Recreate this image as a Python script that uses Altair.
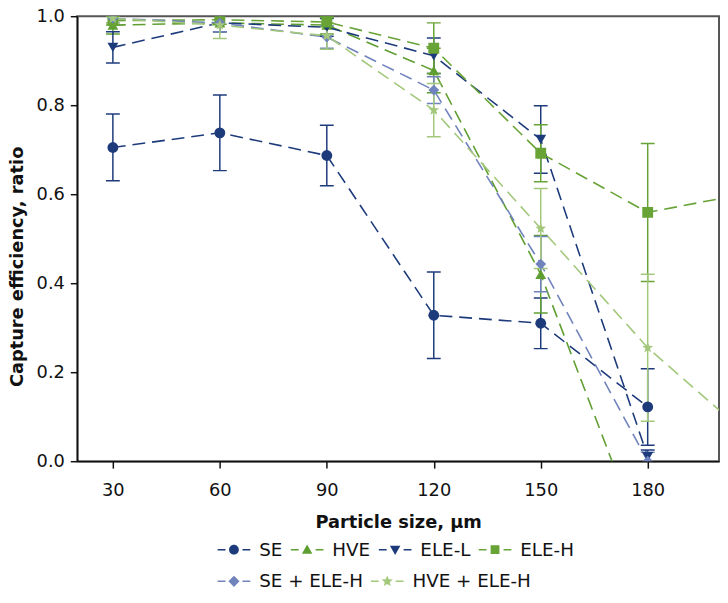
import math
import altair as alt
import pandas as pd

# ---------------- data ----------------
sizes = [30, 60, 90, 120, 150, 180, 210]
series_names = ["SE", "HVE", "ELE-L", "ELE-H", "SE + ELE-H", "HVE + ELE-H"]

se_vals = [0.705, 0.738, 0.687, 0.328, 0.310, 0.122, None]
se_err = [0.075, 0.085, 0.068, 0.097, 0.057, 0.086, None]

hve_vals = [0.980, 0.985, 0.980, 0.878, 0.420, -0.210, None]
hve_err = [0.020, 0.020, 0.020, 0.050, 0.087, 0.100, None]

elel_vals = [0.930, 0.985, 0.975, 0.911, 0.723, 0.010, None]
elel_err = [0.035, 0.020, 0.020, 0.040, 0.076, 0.015, None]

eleh_vals = [0.990, 0.992, 0.987, 0.928, 0.692, 0.559, 0.605]
eleh_err = [0.010, 0.010, 0.010, 0.057, 0.064, 0.155, None]

seeleh_vals = [0.995, 0.985, 0.953, 0.834, 0.443, 0.000, None]
seeleh_err = [0.010, 0.020, 0.025, 0.030, 0.062, 0.020, None]

hveeleh_vals = [0.995, 0.980, 0.956, 0.789, 0.523, 0.255, 0.045]
hveeleh_err = [0.010, 0.030, 0.030, 0.060, 0.090, 0.165, None]

colors = ["#1d3b7b", "#5f9e30", "#1d3b7b", "#68a336", "#7183bd", "#a3c87c"]

all_vals = [se_vals, hve_vals, elel_vals, eleh_vals, seeleh_vals, hveeleh_vals]
all_errs = [se_err, hve_err, elel_err, eleh_err, seeleh_err, hveeleh_err]

rows = []
for name, vals, errs in zip(series_names, all_vals, all_errs):
    for i, (x, v) in enumerate(zip(sizes, vals)):
        if v is None:
            continue
        e = errs[i]
        rows.append({
            "size": x, "v": v, "series": name,
            "lo": v - e if e is not None else None,
            "hi": v + e if e is not None else None,
        })
df = pd.DataFrame(rows)
err_df = df.dropna(subset=["lo"])

# ---------------- marker paths ----------------
def star(r_out, r_in):
    pts = []
    for k in range(10):
        a = -math.pi / 2 + k * math.pi / 5
        r = r_out if k % 2 == 0 else r_in
        pts.append((r * math.cos(a), r * math.sin(a)))
    return "M" + "L".join(f"{x:.3f},{y:.3f}" for x, y in pts) + "Z"

point_shapes = ["circle", "triangle-up", "triangle-down", "square", "diamond", star(1.05, 0.45)]

# legend symbol: filled dash - marker - filled dash
dash = "M-1,-0.045L-0.52,-0.045L-0.52,0.045L-1,0.045ZM0.52,-0.045L1,-0.045L1,0.045L0.52,0.045Z"
m = 0.30
legend_markers = [
    f"M{-m},0A{m},{m},0,1,0,{m},0A{m},{m},0,1,0,{-m},0Z",
    "M0,-0.32L0.32,0.24L-0.32,0.24Z",
    "M0,0.32L0.32,-0.24L-0.32,-0.24Z",
    "M-0.27,-0.27L0.27,-0.27L0.27,0.27L-0.27,0.27Z",
    "M0,-0.34L0.34,0L0,0.34L-0.34,0Z",
    star(0.36, 0.16),
]
legend_shapes = [dash + mk for mk in legend_markers]

FONT = "DejaVu Sans"

x_scale = alt.Scale(domain=[20, 200], nice=False, zero=False)
y_scale = alt.Scale(domain=[0, 1], nice=False)

x_enc = alt.X("size:Q", scale=x_scale,
              axis=alt.Axis(values=[30, 60, 90, 120, 150, 180], title="Particle size, µm",
                            labelPadding=14, titlePadding=14))
y_enc = alt.Y("v:Q", scale=y_scale,
              axis=alt.Axis(values=[0, 0.2, 0.4, 0.6, 0.8, 1.0], format=".1f",
                            title="Capture efficiency, ratio", titlePadding=10,
                            labelPadding=6, titleY=253))

base = alt.Chart(df)
ebase = alt.Chart(err_df)

layers = []
for idx, (name, col) in enumerate(zip(series_names, colors)):
    sel = alt.datum.series == name
    layers.append(
        base.transform_filter(sel).mark_line(
            strokeDash=[13, 7], strokeWidth=1.6, clip=True, color=col
        ).encode(x=x_enc if idx == 0 else alt.X("size:Q", scale=x_scale),
                 y=y_enc if idx == 0 else alt.Y("v:Q", scale=y_scale),
                 order="size:Q")
    )
for name, col in zip(series_names, colors):
    sel = alt.datum.series == name
    eb = ebase.transform_filter(sel)
    layers.append(eb.mark_rule(strokeWidth=1.5, clip=True, color=col).encode(
        x=alt.X("size:Q", scale=x_scale), y=alt.Y("lo:Q", scale=y_scale), y2="hi:Q"))
    layers.append(eb.mark_rule(strokeWidth=1.5, xOffset=-7, x2Offset=7, clip=True, color=col).encode(
        x=alt.X("size:Q", scale=x_scale), x2="size:Q", y=alt.Y("hi:Q", scale=y_scale)))
    layers.append(eb.mark_rule(strokeWidth=1.5, xOffset=-7, x2Offset=7, clip=True, color=col).encode(
        x=alt.X("size:Q", scale=x_scale), x2="size:Q", y=alt.Y("lo:Q", scale=y_scale)))
for name, col, shp in zip(series_names, colors, point_shapes):
    sel = alt.datum.series == name
    layers.append(
        base.transform_filter(sel).mark_point(
            filled=True, size=120, opacity=1, clip=True, shape=shp, color=col
        ).encode(x=alt.X("size:Q", scale=x_scale), y=alt.Y("v:Q", scale=y_scale))
    )

def make_legend(y):
    return alt.Legend(orient="none", legendX=142, legendY=y, direction="horizontal",
                      title=None, symbolSize=1089, labelFontSize=18.5, labelFont=FONT,
                      symbolStrokeWidth=0, labelColor="#111111", labelOffset=9,
                      columnPadding=8, symbolOpacity=1, labelLimit=300)

def legend_layer(names, cols, shapes, y):
    leg = make_legend(y)
    return base.mark_point(filled=True, opacity=1).encode(
        x=alt.X("size:Q", scale=x_scale),
        y=alt.Y("v:Q", scale=y_scale),
        color=alt.Color("series:N", scale=alt.Scale(domain=names, range=cols), legend=leg),
        shape=alt.Shape("series:N", scale=alt.Scale(domain=names, range=shapes), legend=leg),
    ).transform_filter("datum.v > 5")

layers.append(legend_layer(series_names[:4], colors[:4], legend_shapes[:4], 523))
layers.append(legend_layer(series_names[4:], colors[4:], legend_shapes[4:], 555))

chart = alt.layer(*layers).resolve_scale(
    color="independent", shape="independent"
).properties(
    width=649, height=450,
    padding={"left": 70, "top": 5, "right": 1, "bottom": 132},
    autosize=alt.AutoSizeParams(type="none"),
).configure_view(
    stroke="#555555", strokeWidth=2
).configure_axis(
    labelFont=FONT, titleFont=FONT, labelFontSize=18, titleFontSize=18,
    titleFontWeight="bold", labelColor="#111111", titleColor="#111111",
    domainColor="#111111", domainWidth=1.5, tickColor="#111111", tickWidth=1.5,
    tickSize=7, grid=False,
)

chart.save("out.html", embed_options={"renderer": "svg", "actions": False})
